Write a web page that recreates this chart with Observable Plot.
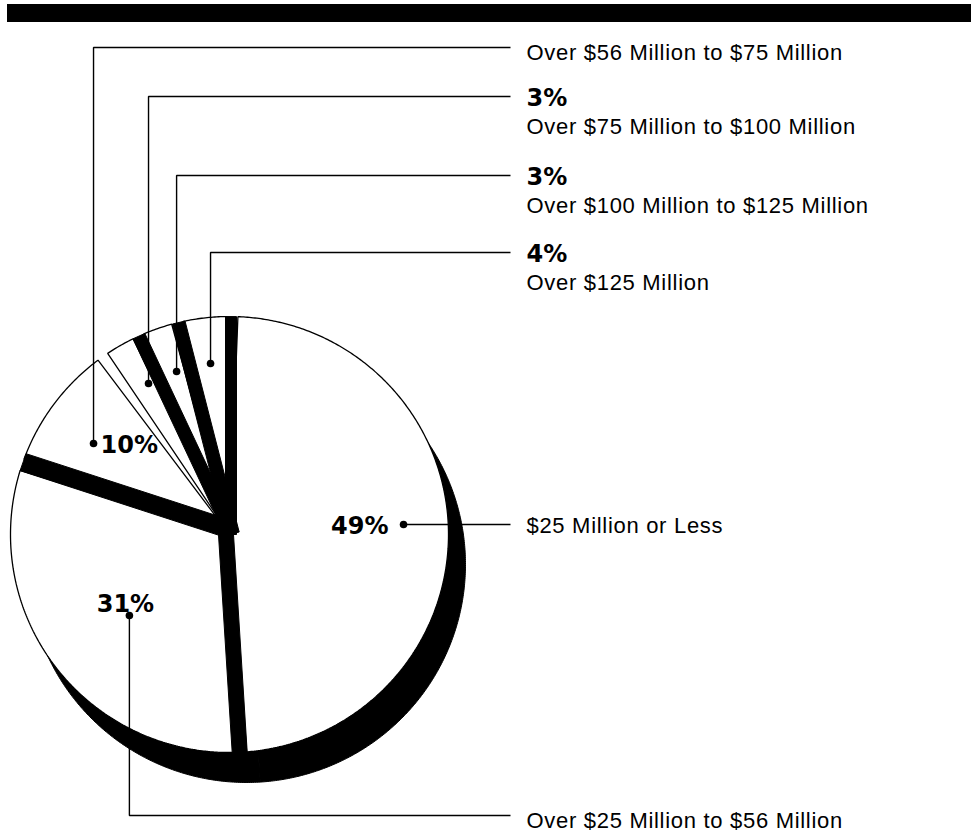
<!DOCTYPE html>
<html>
<head>
<meta charset="utf-8">
<script src="https://cdn.jsdelivr.net/npm/d3@7"></script>
<script src="https://cdn.jsdelivr.net/npm/@observablehq/plot@0.6"></script>
<style>
  html, body { margin: 0; padding: 0; background: #fff; }
  #wrap { position: relative; width: 971px; height: 833px; overflow: hidden; background: #fff; }
  #band { position: absolute; left: 7px; top: 4px; right: 0; height: 18px; background: #000; }
  #chart { position: absolute; left: 0; top: 0; }
  #chart svg g[font-weight="normal"] { letter-spacing: 0.7px; }
</style>
</head>
<body>
<div id="wrap"><div id="chart"></div><div id="band"></div></div>
<script>
// ---- data ----
const categories = [
  "$25 Million or Less",
  "Over $25 Million to $56 Million",
  "Over $56 Million to $75 Million",
  "Over $75 Million to $100 Million",
  "Over $100 Million to $125 Million",
  "Over $125 Million"
];
const shares = [49, 31, 10, 3, 3, 4];
const percentLabels = ["49%", "31%", "10%", "3%", "3%", "4%"];

// ---- layout / style ----
const W = 971, H = 833;
const cx = 229, cy = 534, rx = 219, ry = 218;
const trimStart = 2.2, trimEnd = 0.9;                 // degrees trimmed from each face
const wallFrom = [-4, -4, null, -4, -3, -4];          // dark wall band after slice i (px, across boundary)
const wallTo   = [11, 14, null, 9, 10, 7];
const shadowOffset = [[17, 30], [17, 30], [17, 30], [22, 8], [22, 8], [22, 8]];
const dotRadius = [0.796, 0.589, 0.748, 0.785, 0.786, 0.789];
const dotAngleShift = [-1.5, -1.3, -2.1, 2.5, 1.9, 0.9];
const pctPlacement = ["left", "above", "right", "column", "column", "column"];
const labelRowY = [null, 815, 47, 96, 175, 252];
const lineEndX = 510, labelX = 526;

const toRad = Math.PI / 180;
const arcs = d3.pie().sort(null).value(d => d)(shares);
const P = (a, f = 1, ox = 0, oy = 0) => ({x: cx + ox + rx * f * Math.sin(a), y: cy + oy - ry * f * Math.cos(a)});
function sector(id, a0, a1, ox = 0, oy = 0) {
  const pts = [{id, ...P(0, 0, ox, oy)}];
  const n = Math.max(2, Math.ceil((a1 - a0) / (0.5 * toRad)));
  for (let i = 0; i <= n; i++) pts.push({id, ...P(a0 + (a1 - a0) * i / n, 1, ox, oy)});
  pts.push({id, ...P(0, 0, ox, oy)});
  return pts;
}
function rimHit(q, u) {
  const A = (u.x / rx) ** 2 + (u.y / ry) ** 2;
  const B = 2 * ((q.x - cx) * u.x / rx ** 2 + (q.y - cy) * u.y / ry ** 2);
  const C = ((q.x - cx) / rx) ** 2 + ((q.y - cy) / ry) ** 2 - 1;
  const s = (-B + Math.sqrt(B * B - 4 * A * C)) / (2 * A);
  return {x: q.x + s * u.x, y: q.y + s * u.y};
}

const shadowPts = arcs.flatMap((a, i) => sector("s" + i, a.startAngle, a.endAngle, ...shadowOffset[i]));
const facePts = arcs.flatMap((a, i) => sector("f" + i, a.startAngle + trimStart * toRad, a.endAngle - trimEnd * toRad));
const wallPts = arcs.flatMap((a, i) => {
  if (wallFrom[i] == null) return [];
  const b = a.endAngle;
  const u = {x: Math.sin(b), y: -Math.cos(b)};
  const n = {x: Math.cos(b), y: Math.sin(b)};
  const q0 = {x: cx + wallFrom[i] * n.x, y: cy + wallFrom[i] * n.y};
  const q1 = {x: cx + wallTo[i] * n.x, y: cy + wallTo[i] * n.y};
  const id = "w" + i;
  return [q0, rimHit(q0, u), rimHit(q1, u), q1, q0].map(p => ({id, ...p}));
});

const dots = arcs.map((a, i) => ({i, ...P((a.startAngle + a.endAngle) / 2 + dotAngleShift[i] * toRad, dotRadius[i])}));

const leaders = dots.flatMap(d => {
  const id = "l" + d.i;
  const row = labelRowY[d.i];
  if (row == null) return [{id, x: d.x, y: d.y}, {id, x: lineEndX, y: d.y}];
  return [{id, x: d.x, y: d.y}, {id, x: d.x, y: row}, {id, x: lineEndX, y: row}];
});

const descTexts = dots.map(d => {
  const row = labelRowY[d.i];
  let y;
  if (row == null) y = d.y + 8;
  else if (pctPlacement[d.i] === "column") y = row + 37;
  else y = row + 12;
  return {x: labelX, y, text: categories[d.i]};
});

const pctTexts = dots.map(d => {
  const p = pctPlacement[d.i];
  const t = percentLabels[d.i];
  if (p === "left") return {x: d.x - 15, y: d.y + 9, text: t, anchor: "end"};
  if (p === "above") return {x: d.x - 4, y: d.y - 3, text: t, anchor: "middle"};
  if (p === "right") return {x: d.x + 7, y: d.y + 9, text: t, anchor: "start"};
  return {x: labelX, y: labelRowY[d.i] + 9, text: t, anchor: "start"};
});

const chart = Plot.plot({
  width: W,
  height: H,
  margin: 0,
  x: {domain: [0, W], range: [0, W], axis: null},
  y: {domain: [0, H], range: [0, H], axis: null},
  marks: [
    Plot.line(shadowPts, {x: "x", y: "y", z: "id", fill: "black", stroke: "black", strokeWidth: 1, curve: "linear"}),
    Plot.line(facePts, {x: "x", y: "y", z: "id", fill: "white", stroke: "black", strokeWidth: 1.3, strokeLinejoin: "miter", curve: "linear"}),
    Plot.line(wallPts, {x: "x", y: "y", z: "id", fill: "black", stroke: "black", strokeWidth: 1, curve: "linear"}),
    Plot.line(leaders, {x: "x", y: "y", z: "id", stroke: "black", strokeWidth: 1.4, strokeLinecap: "butt", strokeLinejoin: "miter", curve: "linear"}),
    Plot.dot(dots, {x: "x", y: "y", r: 3.8, fill: "black", stroke: "none"}),
    Plot.text(descTexts, {x: "x", y: "y", text: "text", textAnchor: "start", lineAnchor: "bottom",
      fontSize: 22, fontFamily: "'Liberation Sans', Arial, Helvetica, sans-serif", fontWeight: "normal", fill: "black"}),
    ...["start", "middle", "end"].map(anchor =>
      Plot.text(pctTexts.filter(d => d.anchor === anchor), {x: "x", y: "y", text: "text", textAnchor: anchor, lineAnchor: "bottom",
        fontSize: 24, fontFamily: "'DejaVu Sans', sans-serif", fontWeight: "bold", fill: "black"}))
  ]
});
document.getElementById("chart").appendChild(chart);
</script>
</body>
</html>
